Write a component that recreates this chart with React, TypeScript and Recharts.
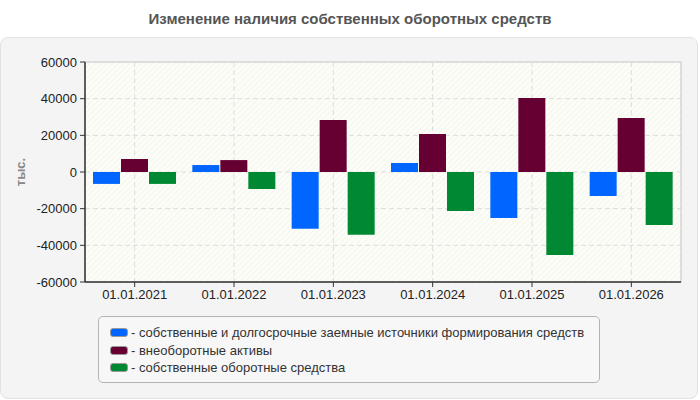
import React from 'react'
import {
  BarChart, Bar, XAxis, YAxis, CartesianGrid, ReferenceArea, Label
} from 'recharts'

// Dates on the category axis
const dates = ['01.01.2021', '01.01.2022', '01.01.2023', '01.01.2024', '01.01.2025', '01.01.2026']

// Values, тыс.
const ownAndLongTerm = [-6500, 3800, -31000, 4900, -25100, -13100]
const nonCurrentAssets = [7100, 6500, 28400, 20700, 40400, 29400]
const workingCapital = [-6500, -9300, -34200, -21300, -45300, -28900]

const yTicks = [-60000, -40000, -20000, 0, 20000, 40000, 60000]

const series = [
  { key: 'own', name: 'собственные и долгосрочные заемные источники формирования средств', color: '#0066ff' },
  { key: 'nca', name: 'внеоборотные активы', color: '#660033' },
  { key: 'wc', name: 'собственные оборотные средства', color: '#008833' },
]

const chartData = dates.map((d, i) => ({
  date: d,
  own: ownAndLongTerm[i],
  nca: nonCurrentAssets[i],
  wc: workingCapital[i],
}))

const font = '"Liberation Sans", Arial, sans-serif'

export default function App() {
  return (
    <div style={{ position: 'absolute', left: 0, top: 0, width: 700, height: 400, background: '#fff', fontFamily: font }}>
      {/* hatch pattern for the plot background */}
      <svg width={0} height={0} style={{ position: 'absolute' }}>
        <defs>
          <pattern id="hatch" width={4} height={4} patternUnits="userSpaceOnUse" patternTransform="rotate(45)">
            <rect width={4} height={4} fill="#fdfdf7" />
            <line x1={0} y1={0} x2={0} y2={4} stroke="#f1f1ec" strokeWidth={1.2} />
          </pattern>
        </defs>
      </svg>

      <div style={{
        position: 'absolute', left: 0, top: 10, width: 700, textAlign: 'center',
        fontSize: 15, fontWeight: 'bold', color: '#555'
      }}>
        Изменение наличия собственных оборотных средств
      </div>

      <div style={{
        position: 'absolute', left: 0, top: 37, width: 696, height: 360,
        background: '#f4f4f4', border: '1px solid #e2e2e2', borderRadius: 8
      }} />

      <div style={{ position: 'absolute', left: 0, top: 0 }}>
        <BarChart
          width={700}
          height={400}
          data={chartData}
          margin={{ top: 62, right: 19, bottom: 88, left: 0 }}
          barSize={27}
          barGap={1}
        >
          <CartesianGrid stroke="#dcdcdc" strokeDasharray="5 3" fill="url(#hatch)" />
          <ReferenceArea y1={-60000} y2={60000} fill="none" stroke="#d8d8d8" strokeWidth={1.5} />
          <XAxis
            dataKey="date"
            height={30}
            tick={{ fill: '#222', fontSize: 13, fontFamily: font }}
            axisLine={{ stroke: '#333', strokeWidth: 1.5 }}
            tickLine={{ stroke: '#333' }}
            tickSize={5}
            tickMargin={3}
          />
          <YAxis
            width={85}
            domain={[-60000, 60000]}
            ticks={yTicks}
            allowDataOverflow
            tick={{ fill: '#222', fontSize: 13, fontFamily: font }}
            axisLine={{ stroke: '#333', strokeWidth: 1.5 }}
            tickLine={{ stroke: '#333' }}
            tickSize={5}
            tickMargin={3}
          >
            <Label
              value="тыс."
              angle={-90}
              position="insideLeft"
              offset={20}
              style={{ fill: '#888', fontSize: 13, fontWeight: 'bold', fontFamily: font, textAnchor: 'middle' }}
            />
          </YAxis>
          {series.map(s => (
            <Bar key={s.key} dataKey={s.key} name={s.name} fill={s.color} isAnimationActive={false} />
          ))}
        </BarChart>
      </div>

      <div style={{
        position: 'absolute', left: 98, top: 316, width: 502, height: 67,
        border: '1px solid #b4b4b4', borderRadius: 5, background: '#f7f7f7',
        boxSizing: 'border-box', paddingTop: 7, paddingLeft: 11
      }}>
        {series.map(s => (
          <div key={s.key} style={{ display: 'flex', alignItems: 'center', height: 17.5, fontSize: 13, color: '#333' }}>
            <span style={{
              display: 'inline-block', width: 16, height: 7, background: s.color,
              border: '1px solid #999', borderRadius: 3, marginRight: 3
            }} />
            <span>- {s.name}</span>
          </div>
        ))}
      </div>
    </div>
  )
}
